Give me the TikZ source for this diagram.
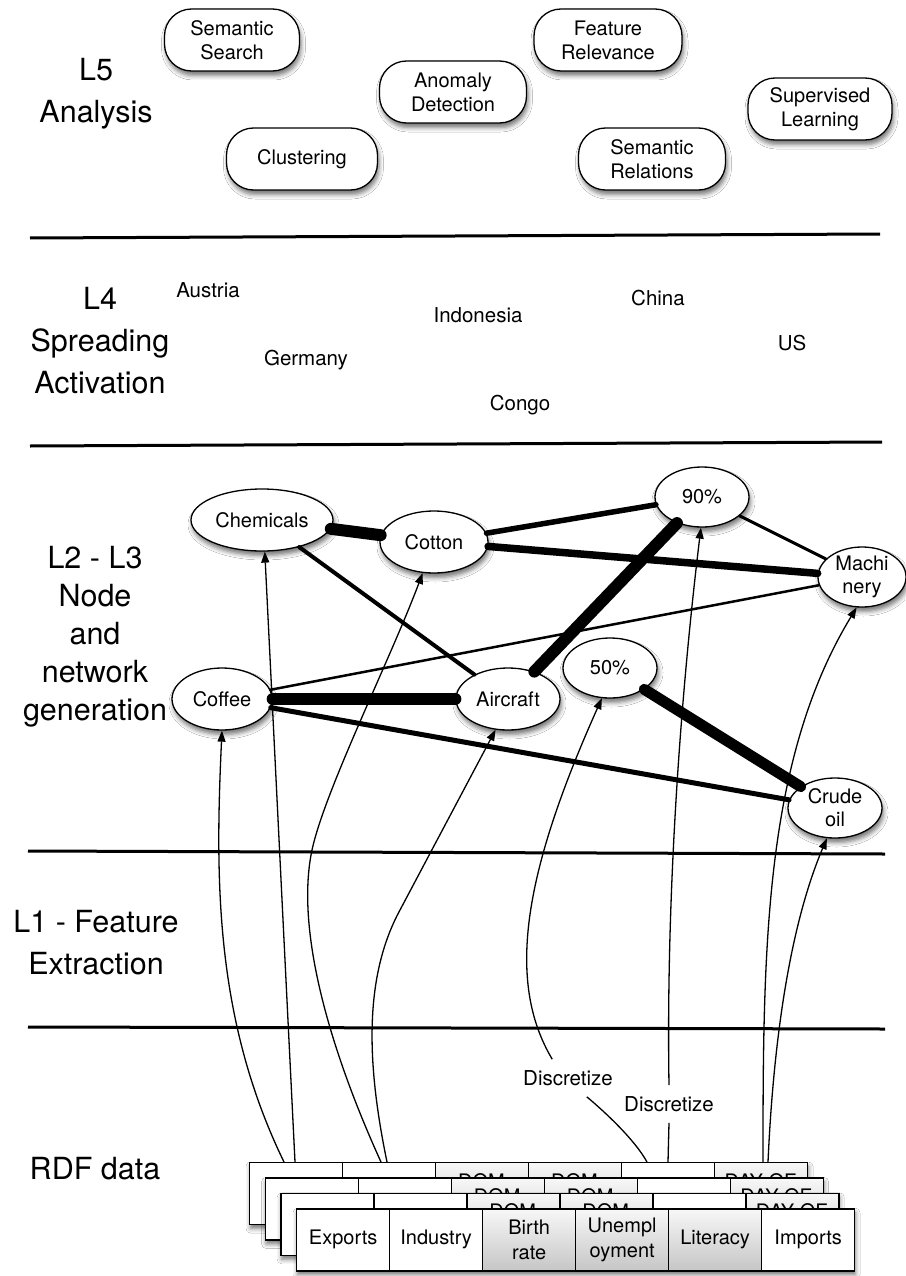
\documentclass[tikz,border=0pt]{standalone}
\usepackage{fontspec}
\setmainfont{TeX Gyre Heros}
\usetikzlibrary{shapes.geometric,arrows.meta,shadows.blur}
\begin{document}
\begin{tikzpicture}[x=1pt,y=-1pt,
  sep/.style={line width=3pt},
  lvl/.style={font=\fontsize{30.5}{42}\selectfont, align=center},
  shd/.style={blur shadow={shadow xshift=1.5pt, shadow yshift=-4.5pt, shadow blur radius=4.5pt, shadow opacity=55}},
  task/.style={draw, line width=1.3pt, rounded corners=27pt, fill=white, align=center,
    minimum height=62pt, inner sep=0pt, font=\fontsize{20}{24}\selectfont, shd},
  feat/.style={ellipse, draw, line width=1.3pt, fill=white, inner sep=0pt, align=center,
    font=\fontsize{20}{23}\selectfont, shd},
  country/.style={font=\fontsize{20.5}{24}\selectfont},
  link/.style={line cap=round},
  arr/.style={line width=1.3pt, -{Triangle[length=11pt,width=8pt]}},
  wire/.style={line width=1.3pt},
  disc/.style={font=\fontsize{20.5}{24}\selectfont, inner xsep=3pt, inner ysep=11pt},
  cell/.style={draw, line width=1.3pt, fill=white, anchor=north west, minimum width=93pt,
    minimum height=62pt, inner sep=0pt, align=center, font=\fontsize{20}{25}\selectfont},
  gcell/.style={cell, top color=gray!6, bottom color=gray!45},
  peek/.style={anchor=north, inner sep=0pt, font=\fontsize{20}{24}\selectfont}
]
\useasboundingbox (0,0) rectangle (905,1276);
\fill[white] (0,0) rectangle (905,1276);

% separators
\draw[sep] (30,238) -- (880,234);
\draw[sep] (30,446) -- (882,442);
\draw[sep] (28,851) -- (885,854);
\draw[sep] (28,1027) -- (885,1029);

% level labels
\node[lvl] (l5) at (96,94) {L5\\Analysis};
\node[lvl] (l4) at (100,341) {L4\\Spreading\\Activation};
\node[lvl, font=\fontsize{30.5}{38}\selectfont] (l23) at (95,637) {L2 - L3\\Node\\and\\network\\generation};
\node[lvl] (l1) at (96,943) {L1 - Feature\\Extraction};
\node[lvl] (rdf) at (95,1169) {RDF data};

% L5 tasks
\node[task, minimum width=135pt] (ss) at (232,40) {Semantic\\Search};
\node[task, minimum width=148pt] (fr) at (608,40) {Feature\\Relevance};
\node[task, minimum width=147pt] (ad) at (453,92) {Anomaly\\Detection};
\node[task, minimum width=144pt] (sl) at (820,109) {Supervised\\Learning};
\node[task, minimum width=151pt] (cl) at (302,159) {Clustering};
\node[task, minimum width=147pt] (sr) at (652,159) {Semantic\\Relations};

% L4 countries
\node[country] (at) at (208,290) {Austria};
\node[country] (de) at (306,360) {Germany};
\node[country] (id) at (478,315) {Indonesia};
\node[country] (cg) at (520,405) {Congo};
\node[country] (cn) at (658,298) {China};
\node[country] (us) at (792,343) {US};

% feature nodes
\node[feat, minimum width=142pt, minimum height=62pt] (chem) at (262,520) {Chemicals};
\node[feat, minimum width=108pt, minimum height=62pt] (cot) at (434,542) {Cotton};
\node[feat, minimum width=100pt, minimum height=62pt] (cof) at (222,699) {Coffee};
\node[feat, minimum width=104pt, minimum height=62pt] (air) at (508,699) {Aircraft};
\node[feat, minimum width=94pt, minimum height=60pt] (p90) at (702,497) {90\%};
\node[feat, minimum width=94pt, minimum height=60pt] (p50) at (610,668) {50\%};
\node[feat, minimum width=88pt, minimum height=60pt] (mach) at (862,577) {Machi\\nery};
\node[feat, minimum width=94pt, minimum height=60pt] (crude) at (835,808) {Crude\\oil};

% discretize labels
\node[disc] (d1) at (568,1078) {Discretize};
\node[disc] (d2) at (669,1104) {Discretize};

% arrow start points on the table
\coordinate (s1) at (284,1162);
\coordinate (s2) at (295,1162);
\coordinate (s3) at (381,1162);
\coordinate (s4) at (387,1162);
\coordinate (s5) at (647,1162);
\coordinate (s6) at (668,1162);
\coordinate (s7) at (763,1162);
\coordinate (s8) at (768,1162);

% extraction arrows
\draw[arr] (s1) .. controls (215,1020) and (215,880) .. (cof.south);
\draw[arr] (s2) -- (chem.-85);
\draw[arr] (s3) .. controls (330,1050) and (295,930) .. (312,850) .. controls (325,790) and (390,660) .. (cot.-110);
\draw[arr] (s4) .. controls (368,1070) and (362,980) .. (400,910) -- (air.-112);
\draw[wire] (s5) .. controls (635,1140) and (605,1112) .. (d1.-45);
\draw[arr] (d1.130) .. controls (505,980) and (525,870) .. (p50.-105);
\draw[wire] (s6) -- (d2.south);
\draw[arr] (d2.north) .. controls (666,900) and (680,700) .. (p90.-92);
\draw[arr] (s7) .. controls (763,950) and (764,760) .. (mach.-100);
\draw[arr] (s8) .. controls (773,1050) and (788,930) .. (crude.-105);

% network links
\draw[link, line width=12pt] (chem) -- (cot);
\draw[link, line width=5.5pt] (cot) -- (p90);
\draw[link, line width=7.5pt] (cot) -- (mach);
\draw[link, line width=3pt] (p90) -- (mach);
\draw[link, line width=4pt] (chem) -- (air);
\draw[link, line width=2.5pt] (cof) -- (mach);
\draw[link, line width=12pt] (cof) -- (air);
\draw[link, line width=5pt] (cof) -- (crude);
\draw[link, line width=12pt] (air) -- (p90);
\draw[link, line width=11pt] (p50) -- (crude);

% RDF table layers
\foreach \k in {0,1,2}{
  \pgfmathsetmacro{\xo}{249+15.6*\k}
  \pgfmathsetmacro{\yo}{1162+15.4*\k}
  \fill[white, shd] (\xo,\yo) rectangle ++(558,62);
  \node[cell]  (b\k-1) at (\xo,\yo) {};
  \node[cell]  (b\k-2) at (\xo+93,\yo) {};
  \node[gcell] (b\k-3) at (\xo+186,\yo) {};
  \node[gcell] (b\k-4) at (\xo+279,\yo) {};
  \node[cell]  (b\k-5) at (\xo+372,\yo) {};
  \node[gcell] (b\k-6) at (\xo+465,\yo) {};
  \node[peek] (t\k-3) at (\xo+232.5,\yo+11) {DOM};
  \node[peek] (t\k-4) at (\xo+325.5,\yo+11) {DOM};
  \node[peek] (t\k-6) at (\xo+511.5,\yo+11) {DAY OF};
}
\fill[white, shd] (296,1208.2) rectangle ++(558,62);
\node[cell]  (f1) at (296,1208.2) {Exports};
\node[cell]  (f2) at (389,1208.2) {Industry};
\node[gcell] (f3) at (482,1208.2) {Birth\\rate};
\node[gcell] (f4) at (575,1208.2) {Unempl\\oyment};
\node[gcell] (f5) at (668,1208.2) {Literacy};
\node[cell]  (f6) at (761,1208.2) {Imports};
\end{tikzpicture}
\end{document}
